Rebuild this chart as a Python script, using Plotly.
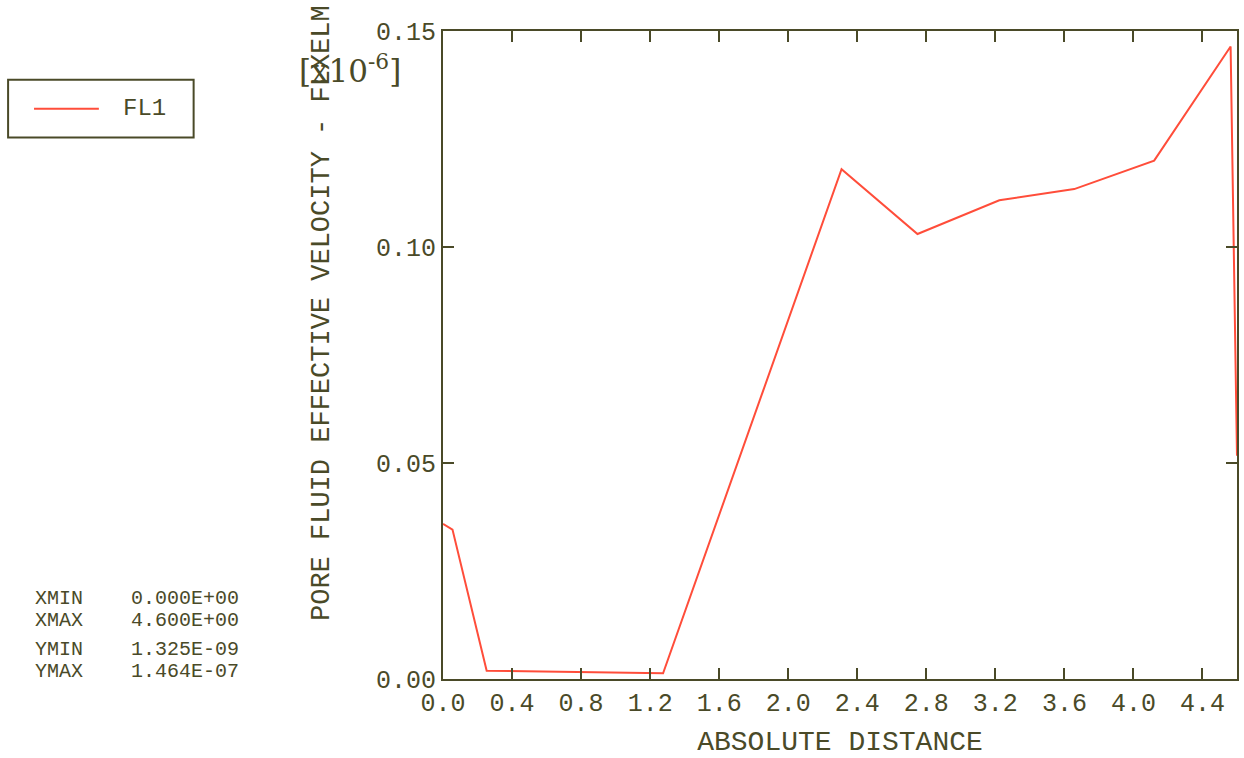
import plotly.graph_objects as go

# Pore fluid effective velocity along the path (FL1), values in units of 1e-6
distance = [0.0, 0.055, 0.253, 1.275, 2.309, 2.749, 3.223, 3.657, 4.120, 4.563, 4.600]
velocity = [0.0359, 0.0346, 0.0019, 0.001325, 0.1180, 0.1030, 0.1108, 0.1134, 0.1200, 0.1464, 0.0517]

x_ticks = [0.0, 0.4, 0.8, 1.2, 1.6, 2.0, 2.4, 2.8, 3.2, 3.6, 4.0, 4.4]
x_tick_text = ["0.0", "0.4", "0.8", "1.2", "1.6", "2.0", "2.4", "2.8", "3.2", "3.6", "4.0", "4.4"]
y_ticks = [0.0, 0.05, 0.10, 0.15]
y_tick_text = ["0.00", "0.05", "0.10", "0.15"]

stat_names = ["XMIN", "XMAX", "YMIN", "YMAX"]
stat_values = ["0.000E+00", "4.600E+00", "1.325E-09", "1.464E-07"]

INK = "#4a4a28"
LINE = "#ff4d3a"
MONO = "Liberation Mono, DejaVu Sans Mono, monospace"

W, H = 1244, 758
L, R, T, B = 443, 5, 31, 76
PW, PH = W - L - R, H - T - B


def px(xp):
    return (xp - L) / PW


def py(yp):
    return (H - B - yp) / PH


fig = go.Figure()
fig.add_trace(go.Scatter(
    x=distance, y=velocity, mode="lines", name="FL1",
    line=dict(color=LINE, width=2), showlegend=False,
))

axis_common = dict(
    showgrid=False, zeroline=False, showline=True, mirror="ticks",
    linecolor=INK, linewidth=2, ticks="inside", ticklen=11, tickwidth=2,
    tickcolor=INK, tickfont=dict(family=MONO, size=25, color=INK),
)
fig.update_xaxes(range=[0, 4.6], tickvals=x_ticks, ticktext=x_tick_text,
                 title=dict(text="ABSOLUTE DISTANCE", standoff=14,
                            font=dict(family=MONO, size=28, color=INK)),
                 **axis_common)
fig.update_yaxes(range=[0, 0.15], tickvals=y_ticks, ticktext=y_tick_text,
                 **axis_common)

annotations = [
    dict(text="PORE FLUID EFFECTIVE VELOCITY - FLXELM", textangle=-90,
         x=px(321), y=py(314), xref="paper", yref="paper",
         xanchor="center", yanchor="middle", showarrow=False,
         font=dict(family=MONO, size=27, color=INK)),
    dict(text="[x10<sup>-6</sup>]", x=px(297), y=py(69), xref="paper", yref="paper",
         xanchor="left", yanchor="middle", showarrow=False,
         font=dict(family="DejaVu Serif, serif", size=31, color=INK)),
    dict(text="FL1", x=px(120), y=py(109), xref="paper", yref="paper",
         xanchor="left", yanchor="middle", showarrow=False,
         font=dict(family=MONO, size=24, color=INK)),
]

stat_rows = [601, 623, 652, 674]
for name, val, yp in zip(stat_names, stat_values, stat_rows):
    annotations.append(dict(
        text=f"{name}    {val}", x=px(32), y=py(yp), xref="paper", yref="paper",
        xanchor="left", yanchor="middle", showarrow=False,
        font=dict(family=MONO, size=20, color=INK)))

shapes = [
    dict(type="rect", xref="paper", yref="paper",
         x0=px(7), x1=px(193), y0=py(138), y1=py(80),
         line=dict(color=INK, width=2), fillcolor="rgba(0,0,0,0)"),
    dict(type="line", xref="paper", yref="paper",
         x0=px(33), x1=px(98), y0=py(109), y1=py(109),
         line=dict(color=LINE, width=2)),
]

fig.update_layout(
    width=W, height=H, margin=dict(l=L, r=R, t=T, b=B),
    paper_bgcolor="white", plot_bgcolor="white",
    annotations=annotations, shapes=shapes,
)

fig.write_html("out.html")
